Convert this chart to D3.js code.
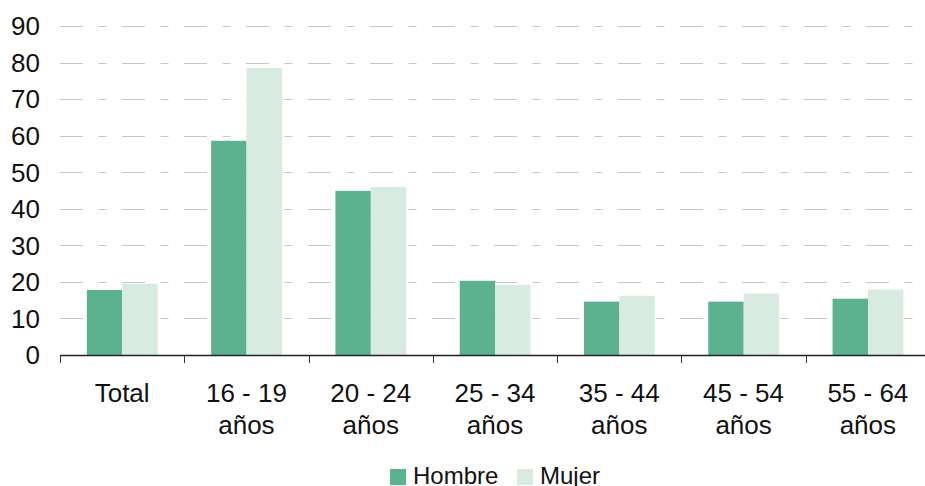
<!DOCTYPE html>
<html>
<head>
<meta charset="utf-8">
<script src="https://cdn.jsdelivr.net/npm/d3@7"></script>
<style>
  body { margin: 0; background: #fff; }
  svg text { font-family: "Liberation Sans", Arial, sans-serif; fill: #111; }
</style>
</head>
<body>
<div id="chart"></div>
<script>
// age groups and rates
var categories = ["Total", "16 - 19|años", "20 - 24|años", "25 - 34|años", "35 - 44|años", "45 - 54|años", "55 - 64|años"];
var series = ["Hombre", "Mujer"];
var hombre = [17.8, 58.6, 44.9, 20.3, 14.6, 14.6, 15.4];
var mujer = [19.5, 78.5, 46.0, 19.2, 16.2, 16.8, 17.9];
var yTicks = [0, 10, 20, 30, 40, 50, 60, 70, 80, 90];

var width = 925;
var height = 486;
var color = d3.scaleOrdinal().domain(series).range(["#5cb28f", "#d7ebe1"]);

var svg = d3.select('#chart')
    .append('svg')
    .attr('width', width)
    .attr('height', height);

var x = d3.scaleBand()
    .domain(categories)
    .range([60, 930]);

var bw = x.bandwidth();
var xs = d3.scaleBand()
    .domain(series)
    .range([bw * 0.216, bw * 0.786]);

var y = d3.scaleLinear()
    .domain([0, 90])
    .range([355, 26]);

// dashed grid
svg.append('g')
    .selectAll('line')
    .data(yTicks.slice(1))
    .enter()
    .append('line')
    .attr('x1', 60)
    .attr('x2', width)
    .attr('y1', function (d) { return Math.round(y(d)) + 0.5; })
    .attr('y2', function (d) { return Math.round(y(d)) + 0.5; })
    .attr('stroke', '#c6c6c6')
    .attr('stroke-width', 1)
    .attr('stroke-dasharray', '23,15.5,8,15.5');

// y labels
svg.append('g')
    .selectAll('text')
    .data(yTicks)
    .enter()
    .append('text')
    .attr('x', 40)
    .attr('y', function (d) { return y(d); })
    .attr('dy', '0.36em')
    .attr('text-anchor', 'end')
    .style('font-size', '26px')
    .text(function (d) { return d; });

// bars
var rows = categories.map(function (c, i) {
    return { cat: c, values: [
        { key: "Hombre", value: hombre[i] },
        { key: "Mujer", value: mujer[i] }
    ] };
});

var group = svg.append('g')
    .selectAll('g')
    .data(rows)
    .enter()
    .append('g')
    .attr('transform', function (d) { return 'translate(' + x(d.cat) + ',0)'; });

group.selectAll('rect')
    .data(function (d) { return d.values; })
    .enter()
    .append('rect')
    .attr('x', function (d) { return xs(d.key); })
    .attr('width', xs.bandwidth())
    .attr('y', function (d) { return y(d.value); })
    .attr('height', function (d) { return y(0) - y(d.value); })
    .attr('fill', function (d) { return color(d.key); });

// x axis
var axis = svg.append('g');
axis.append('line')
    .attr('x1', 60).attr('x2', width)
    .attr('y1', 355.5).attr('y2', 355.5)
    .attr('stroke', '#222').attr('stroke-width', 1.3);

axis.selectAll('.tick')
    .data(categories.concat([null]))
    .enter()
    .append('line')
    .attr('class', 'tick')
    .attr('x1', function (d, i) { return Math.round(60 + i * bw) + 0.5; })
    .attr('x2', function (d, i) { return Math.round(60 + i * bw) + 0.5; })
    .attr('y1', 355)
    .attr('y2', 363)
    .attr('stroke', '#333');

var labels = axis.selectAll('.lab')
    .data(categories)
    .enter()
    .append('text')
    .attr('class', 'lab')
    .attr('text-anchor', 'middle')
    .style('font-size', '26px');

labels.each(function (d) {
    var parts = d.split('|');
    var t = d3.select(this);
    parts.forEach(function (p, j) {
        t.append('tspan')
            .attr('x', x(d) + bw / 2)
            .attr('y', 402 + j * 32)
            .text(p);
    });
});

// legend
var legend = svg.append('g')
    .selectAll('g')
    .data(series)
    .enter()
    .append('g')
    .attr('transform', function (d, i) { return 'translate(' + (i === 0 ? 390 : 517) + ',469)'; });

legend.append('rect')
    .attr('width', 16)
    .attr('height', 16)
    .attr('fill', color);

legend.append('text')
    .attr('x', 23)
    .attr('y', 15)
    .style('font-size', '24px')
    .text(function (d) { return d; });
</script>
</body>
</html>
